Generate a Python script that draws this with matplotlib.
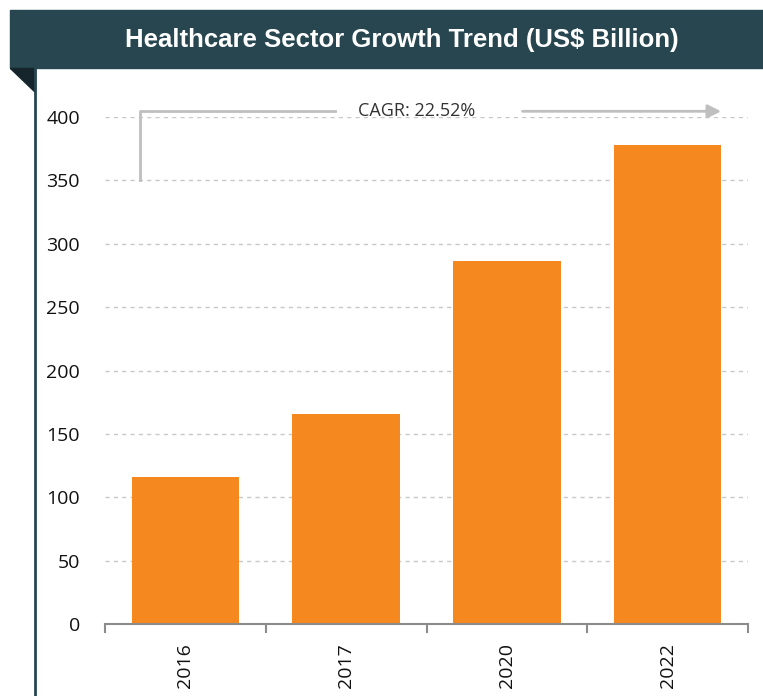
import matplotlib
matplotlib.use("Agg")
import matplotlib.pyplot as plt
from matplotlib.patches import Rectangle, Polygon
from matplotlib.lines import Line2D

# Datos del grafico
years = ["2016", "2017", "2020", "2022"]
values = [116, 166, 286, 378]
y_ticks = [0, 50, 100, 150, 200, 250, 300, 350, 400]
cagr_label = "CAGR: 22.52%"
title = "Healthcare Sector Growth Trend (US$ Billion)"

W, H = 763, 696
fig = plt.figure(figsize=(W / 100, H / 100), dpi=100)

# Banda del titulo
banner = "#27464f"
fig.patches.append(Rectangle((10 / W, 1 - 68 / H), 1 - 10 / W, 58 / H,
                             transform=fig.transFigure, color=banner, zorder=0))
fig.patches.append(Polygon([(10 / W, 1 - 68 / H), (35 / W, 1 - 68 / H), (35 / W, 1 - 92 / H)],
                           closed=True, transform=fig.transFigure, color="#15252b", zorder=0))
fig.lines.append(Line2D([35 / W, 35 / W], [0, 1 - 68 / H], transform=fig.transFigure,
                        color=banner, lw=2))
fig.text(402 / W, 1 - 40 / H, title, color="white", fontsize=18.5, fontweight="bold",
         family=["Liberation Sans Narrow", "Liberation Sans", "DejaVu Sans"],
         ha="center", va="center")

ax = fig.add_axes([105 / W, 1 - 624 / H, (748 - 105) / W, (624 - 117) / H])
x = range(len(years))
ax.bar(x, values, width=0.67, color="#f5881f", zorder=2)
ax.set_xlim(-0.5, 3.5)
ax.set_ylim(0, 400)

ax.set_yticks(y_ticks)
ax.set_yticklabels([str(v) for v in y_ticks], family="Open Sans", fontsize=14, color="#111111")
ax.set_xticks(list(x))
ax.set_xticklabels(years, rotation=90, family="Open Sans", fontsize=14, color="#111111")
ax.tick_params(axis="y", length=0, pad=18)
ax.tick_params(axis="x", length=0, pad=14)

# marcas entre categorias
for b in [-0.5, 0.5, 1.5, 2.5, 3.5]:
    ax.plot([b, b], [0, -6], color="#8c8c8c", lw=1.5, clip_on=False)

for v in y_ticks[1:]:
    ax.axhline(v, color="#c8c8c8", lw=1, ls=(0, (3, 3)), zorder=1)

for s in ["top", "right", "left"]:
    ax.spines[s].set_visible(False)
ax.spines["bottom"].set_color("#8c8c8c")
ax.spines["bottom"].set_linewidth(1.5)

# Anotacion CAGR
gray = "#bfbfbf"
ax.plot([-0.28, -0.28, 0.93], [350, 404.5, 404.5], color=gray, lw=2, clip_on=False)
ax.text(1.44, 404.5, cagr_label, family="Open Sans", fontsize=13, color="#333333",
        ha="center", va="center")
ax.annotate("", xy=(3.35, 404.5), xytext=(2.08, 404.5),
            arrowprops=dict(arrowstyle="-|>", color=gray, lw=2, mutation_scale=20),
            annotation_clip=False)

fig.savefig("out.png", dpi=100)
